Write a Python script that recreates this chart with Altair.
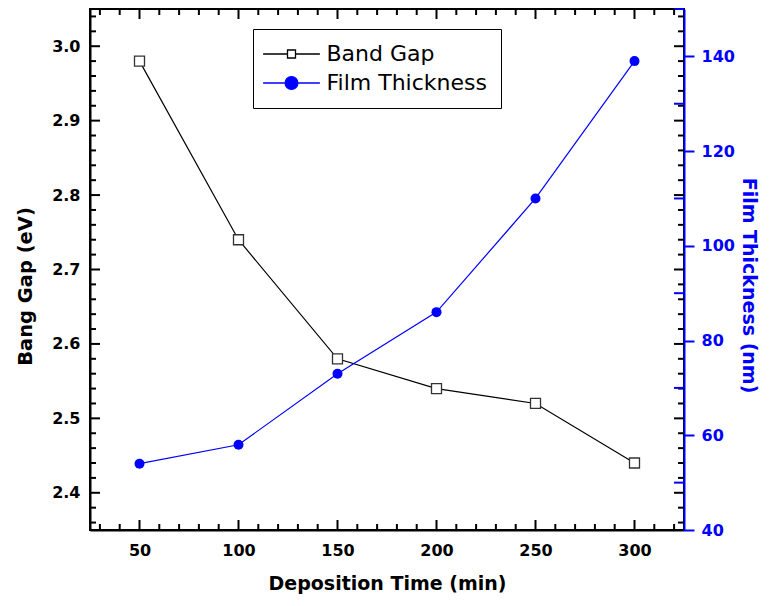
import altair as alt
import pandas as pd

# ---- data ----
time_min = [50, 100, 150, 200, 250, 300]
band_gap = [2.98, 2.74, 2.58, 2.54, 2.52, 2.44]
thickness = [54, 58, 73, 86, 110, 139]
series_names = ["Band Gap", "Film Thickness"]

# ---- axis tick values ----
x_labels = [50, 100, 150, 200, 250, 300]
x_minor = [30, 40, 60, 70, 80, 90, 110, 120, 130, 140, 160, 170, 180, 190,
           210, 220, 230, 240, 260, 270, 280, 290, 310, 320]
yl_labels = [2.4, 2.5, 2.6, 2.7, 2.8, 2.9, 3.0]
yl_minor = [2.36, 2.38, 2.42, 2.44, 2.46, 2.48, 2.52, 2.54, 2.56, 2.58,
            2.62, 2.64, 2.66, 2.68, 2.72, 2.74, 2.76, 2.78, 2.82, 2.84,
            2.86, 2.88, 2.92, 2.94, 2.96, 2.98, 3.02, 3.04]
yr_labels = [40, 60, 80, 100, 120, 140]
yr_minor = [50, 70, 90, 110, 130, 150]

W, H = 594, 521
FONT = "DejaVu Sans"
BLUE = "#0000FF"

df_bg = pd.DataFrame({"t": time_min, "v": band_gap})
df_th = pd.DataFrame({"t": time_min, "v": thickness})

x_dom = [25, 325]
yl_dom = [2.35, 3.05]
yr_dom = [40, 150]


def xs():
    return alt.Scale(domain=x_dom, zero=False, nice=False)


def yls():
    return alt.Scale(domain=yl_dom, zero=False, nice=False)


def yrs():
    return alt.Scale(domain=yr_dom, zero=False, nice=False)


x_axis = alt.Axis(values=x_labels, format="d", title="Deposition Time (min)",
                  labelFont=FONT, labelFontSize=16, labelFontWeight="bold",
                  labelColor="black", labelPadding=12, tickSize=0,
                  domainColor="black", domainWidth=2, grid=False,
                  titleFont=FONT, titleFontSize=19, titleFontWeight="bold",
                  titleColor="black", titleX=297, titleY=44, titleBaseline="top")
yl_axis = alt.Axis(values=yl_labels, format=".1f", title="Bang Gap (eV)",
                   labelFont=FONT, labelFontSize=16, labelFontWeight="bold",
                   labelColor="black", labelPadding=10, tickSize=0,
                   domainColor="black", domainWidth=2, grid=False,
                   titleFont=FONT, titleFontSize=19.5, titleFontWeight="bold",
                   titleColor="black", titleX=-55, titleY=277,
                   titleBaseline="bottom")
yr_axis = alt.Axis(orient="right", values=yr_labels, format="d",
                   title="Film Thickness (nm)",
                   labelFont=FONT, labelFontSize=16, labelFontWeight="bold",
                   labelColor=BLUE, labelPadding=7, tickSize=10,
                   tickWidth=2, tickColor=BLUE,
                   domainColor=BLUE, domainWidth=2, grid=False,
                   titleFont=FONT, titleFontSize=19, titleFontWeight="bold",
                   titleColor=BLUE, titleX=64, titleY=276, titleBaseline="middle")

# ---- legend (symbols drawn as line + marker paths) ----
sq_path = "M-7.1,0H-1M1,0H7.1M-1,-1H1V1H-1Z"
ci_path = "M-7.1,0H-1.6M1.6,0H7.1M1.6,0A1.6,1.6,0,1,1,-1.6,0A1.6,1.6,0,1,1,1.6,0Z"
leg = alt.Legend(title=None, orient="none", legendX=163, legendY=20,
                 strokeColor="black", padding=14, fillColor="white",
                 labelFont=FONT, labelFontSize=22, labelColor="black",
                 labelLimit=400,
                 symbolSize=64, symbolStrokeWidth=1.3, symbolOffset=13.5,
                 labelOffset=24, rowPadding=7, symbolOpacity=1)
df_leg = pd.DataFrame({"series": series_names})
legend_layer = alt.Chart(df_leg).mark_point(opacity=0, filled=True).encode(
    shape=alt.Shape("series:N", scale=alt.Scale(domain=series_names, range=[sq_path, ci_path]), legend=leg),
    fill=alt.Fill("series:N", scale=alt.Scale(domain=series_names, range=["white", BLUE]), legend=leg),
    stroke=alt.Stroke("series:N", scale=alt.Scale(domain=series_names, range=["black", BLUE]), legend=leg),
)


def rules_y(values, scale, x0, x1, color):
    d = pd.DataFrame({"v": values})
    return alt.Chart(d).mark_rule(color=color, strokeWidth=2).encode(
        y=alt.Y("v:Q", scale=scale, axis=None),
        x=alt.value(x0), x2=alt.value(x1))


def rules_x(values, y0, y1, color):
    d = pd.DataFrame({"v": values})
    return alt.Chart(d).mark_rule(color=color, strokeWidth=2).encode(
        x=alt.X("v:Q", scale=xs(), axis=x_axis),
        y=alt.value(y0), y2=alt.value(y1))


bg_line = alt.Chart(df_bg).mark_line(color="black", strokeWidth=1.2).encode(
    x=alt.X("t:Q", scale=xs(), axis=x_axis),
    y=alt.Y("v:Q", scale=yls(), axis=yl_axis))
th_line = alt.Chart(df_th).mark_line(color=BLUE, strokeWidth=1.2).encode(
    x=alt.X("t:Q", scale=xs(), axis=x_axis),
    y=alt.Y("v:Q", scale=yrs(), axis=yr_axis))
bg_pts = alt.Chart(df_bg).mark_point(shape="square", size=100, filled=True,
                                     fill="white", stroke="#333333",
                                     strokeWidth=1.3, opacity=1).encode(
    x=alt.X("t:Q", scale=xs(), axis=x_axis),
    y=alt.Y("v:Q", scale=yls(), axis=None))
th_pts = alt.Chart(df_th).mark_point(shape="circle", size=100, filled=True,
                                     color=BLUE, opacity=1).encode(
    x=alt.X("t:Q", scale=xs(), axis=x_axis),
    y=alt.Y("v:Q", scale=yrs(), axis=None))

chart = alt.layer(
    bg_line,
    th_line,
    rules_y(yl_minor, yls(), 0, 6, "black"),
    rules_y(yl_labels, yls(), 0, 10, "black"),
    rules_y(yl_minor, yls(), W - 6, W, "black"),
    rules_y(yl_labels, yls(), W - 10, W, "black"),
    rules_y(yr_minor, yrs(), W - 10, W, BLUE),
    rules_x(x_minor, H - 6, H, "black"),
    rules_x(x_labels, H - 10, H, "black"),
    rules_x(x_minor, 0, 6, "black"),
    rules_x(x_labels, 0, 10, "black"),
    bg_pts,
    th_pts,
    legend_layer,
).resolve_scale(y="independent").properties(
    width=W, height=H,
    autosize=alt.AutoSizeParams(type="none"),
    padding={"left": 82, "top": 1, "right": 77, "bottom": 64},
).configure_view(stroke="black", strokeWidth=2)

chart.save("out.html", embed_options={"renderer": "svg", "actions": False})
